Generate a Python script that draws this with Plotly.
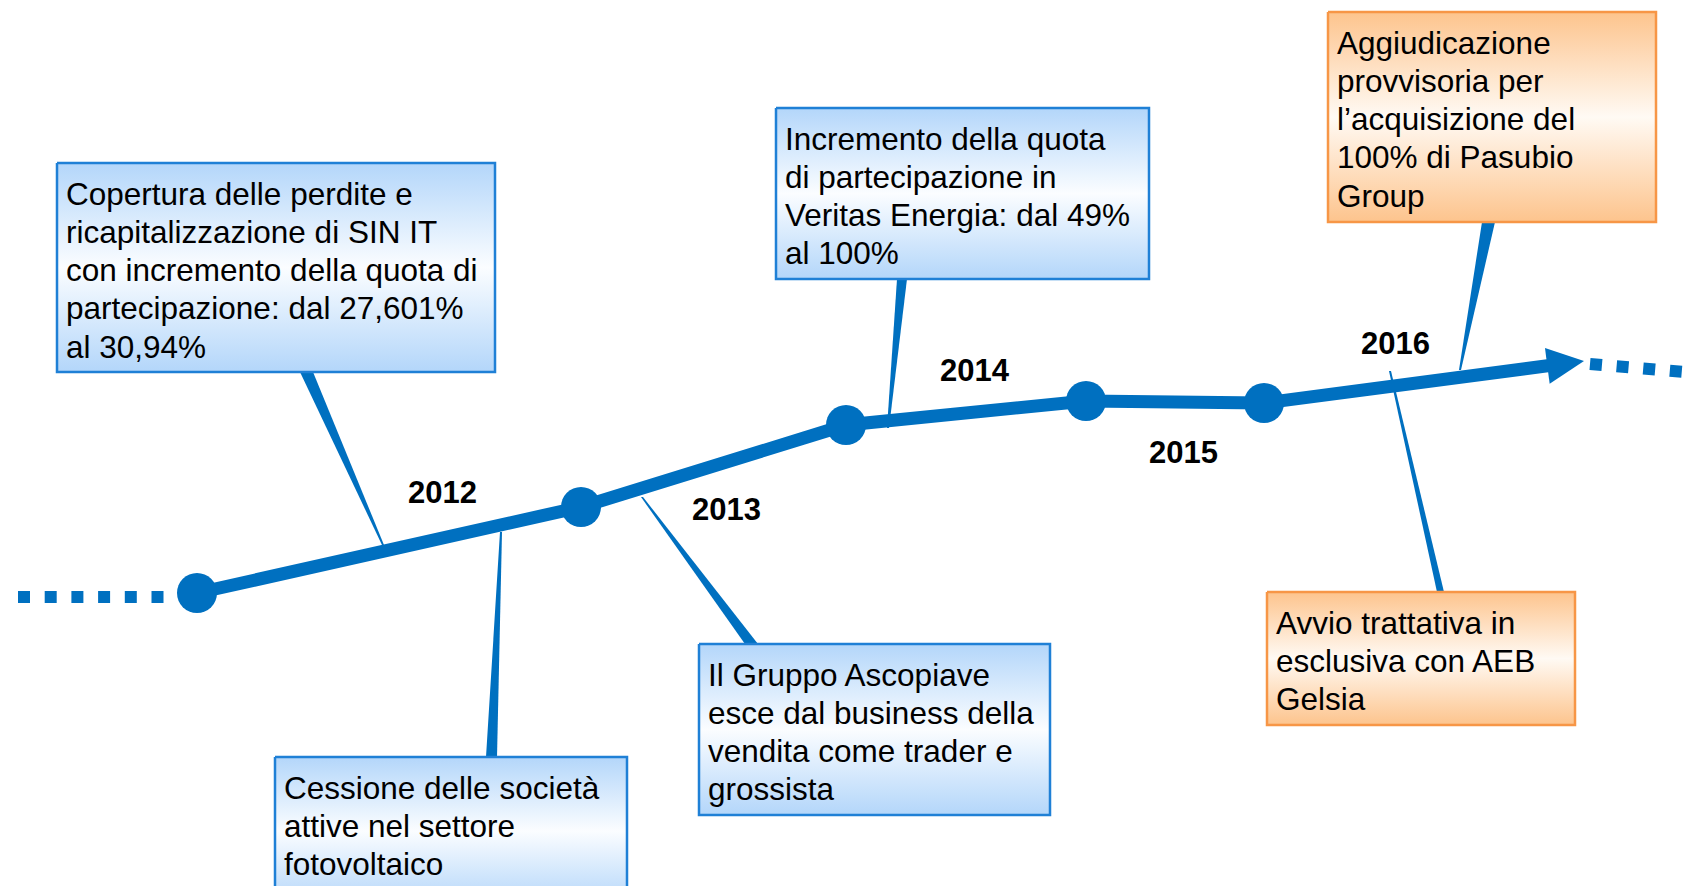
import plotly.graph_objects as go

W, H = 1695, 886

# timeline path, on a pixel grid with y pointing down
node_x = [197, 581, 846, 1086, 1264]
node_y = [593, 507, 425, 401, 403]
arrow_tip = [1584, 361]
dots_left_x = [18, 164]
dots_left_y = [597, 597]
dots_right_x = [1590, 1684]
dots_right_y = [364, 372]

years = ["2012", "2013", "2014", "2015", "2016"]
year_x = [442, 726, 975, 1183, 1395]
year_y = [492, 509, 370, 452, 343]

event_text = [
    ["Copertura delle perdite e", "ricapitalizzazione di SIN IT",
     "con incremento della quota di", "partecipazione: dal 27,601%", "al 30,94%"],
    ["Cessione delle società", "attive nel settore", "fotovoltaico"],
    ["Il Gruppo Ascopiave", "esce dal business della",
     "vendita come trader e", "grossista"],
    ["Incremento della quota", "di partecipazione in",
     "Veritas Energia: dal 49%", "al 100%"],
    ["Aggiudicazione", "provvisoria per", "l\u2019acquisizione del",
     "100% di Pasubio", "Group"],
    ["Avvio trattativa in", "esclusiva con AEB", "Gelsia"],
]
event_kind = ["blue", "blue", "blue", "blue", "orange", "orange"]
# box corners: left, top, right, bottom
box_x0 = [57, 275, 699, 776, 1328, 1267]
box_y0 = [163, 757, 644, 108, 12, 592]
box_x1 = [495, 627, 1050, 1149, 1656, 1575]
box_y1 = [372, 905, 815, 279, 222, 725]
# connector wedges: wide end on the box, thin end on the timeline
wedge_x0 = [300, 486, 745, 897, 1482, 1437]
wedge_x1 = [313, 497, 758, 907, 1495, 1444]
wedge_y = [372, 757, 644, 279, 222, 592]
tip_x = [383, 501, 642, 888, 1460, 1390]
tip_y = [545, 532, 497, 428, 370, 371]

BLUE = "#0070c0"
STYLES = {
    "blue": dict(border="#1f80d6",
                 scale=[[0, "#b3d6fa"], [0.5, "#fbfdff"], [1, "#b3d6fa"]]),
    "orange": dict(border="#f79646",
                   scale=[[0, "#fdc48d"], [0.5, "#fffaf4"], [1, "#fdc48d"]]),
}
FONT = "Liberation Sans, Arial, sans-serif"
FS = 31.5
LINE_STEP = 38.3

fig = go.Figure()

# connectors
for i in range(len(event_text)):
    fig.add_trace(go.Scatter(
        x=[wedge_x0[i], wedge_x1[i], tip_x[i] + 1, tip_x[i] - 1, wedge_x0[i]],
        y=[wedge_y[i], wedge_y[i], tip_y[i], tip_y[i], wedge_y[i]],
        mode="lines", fill="toself", fillcolor=BLUE,
        line=dict(width=0, color=BLUE), hoverinfo="skip", showlegend=False))

# dotted lead-in and lead-out
for dx, dy in [(dots_left_x, dots_left_y), (dots_right_x, dots_right_y)]:
    fig.add_trace(go.Scatter(
        x=dx, y=dy, mode="lines",
        line=dict(color=BLUE, width=12, dash="12px,14.7px"),
        hoverinfo="skip", showlegend=False))

# arrow head, along the last segment
lx, ly = node_x[-1], node_y[-1]
tx, ty = arrow_tip
dist = ((tx - lx) ** 2 + (ty - ly) ** 2) ** 0.5
ux, uy = (tx - lx) / dist, (ty - ly) / dist
bx, by = tx - 37 * ux, ty - 37 * uy
px, py = -uy * 18, ux * 18

fig.add_trace(go.Scatter(
    x=node_x + [bx + ux * 4], y=node_y + [by + uy * 4], mode="lines",
    line=dict(color=BLUE, width=13), hoverinfo="skip", showlegend=False))
fig.add_trace(go.Scatter(
    x=[tx, bx + px, bx - px, tx], y=[ty, by + py, by - py, ty],
    mode="lines", fill="toself", fillcolor=BLUE,
    line=dict(width=0, color=BLUE), hoverinfo="skip", showlegend=False))

fig.add_trace(go.Scatter(
    x=node_x, y=node_y, mode="markers",
    marker=dict(size=40, color=BLUE, line=dict(width=0)),
    hoverinfo="skip", showlegend=False))

# event boxes
for i, lines in enumerate(event_text):
    st = STYLES[event_kind[i]]
    fig.add_trace(go.Scatter(
        x=[box_x0[i], box_x1[i], box_x1[i], box_x0[i], box_x0[i]],
        y=[box_y0[i], box_y0[i], box_y1[i], box_y1[i], box_y0[i]],
        mode="lines", fill="toself",
        fillgradient=dict(type="vertical", colorscale=st["scale"]),
        line=dict(width=2.5, color=st["border"]),
        hoverinfo="skip", showlegend=False))
    for j, txt in enumerate(lines):
        fig.add_annotation(
            x=box_x0[i] + 7, y=box_y0[i] + 30.5 + j * LINE_STEP,
            text=txt, showarrow=False, xanchor="left", yanchor="middle",
            font=dict(family=FONT, size=FS, color="#000000"))

for yr, x, y in zip(years, year_x, year_y):
    fig.add_annotation(
        x=x, y=y, text="<b>" + yr + "</b>", showarrow=False,
        xanchor="center", yanchor="middle",
        font=dict(family=FONT, size=31, color="#000000"))

fig.update_layout(
    width=W, height=H, margin=dict(l=0, r=0, t=0, b=0),
    paper_bgcolor="white", plot_bgcolor="white",
    xaxis=dict(range=[0, W], visible=False, fixedrange=True),
    yaxis=dict(range=[H, 0], visible=False, fixedrange=True),
)

fig.write_html(
    "out.html",
    config={"displayModeBar": False, "staticPlot": True},
    post_script="document.body.style.margin='0';document.body.style.overflow='hidden';",
)
